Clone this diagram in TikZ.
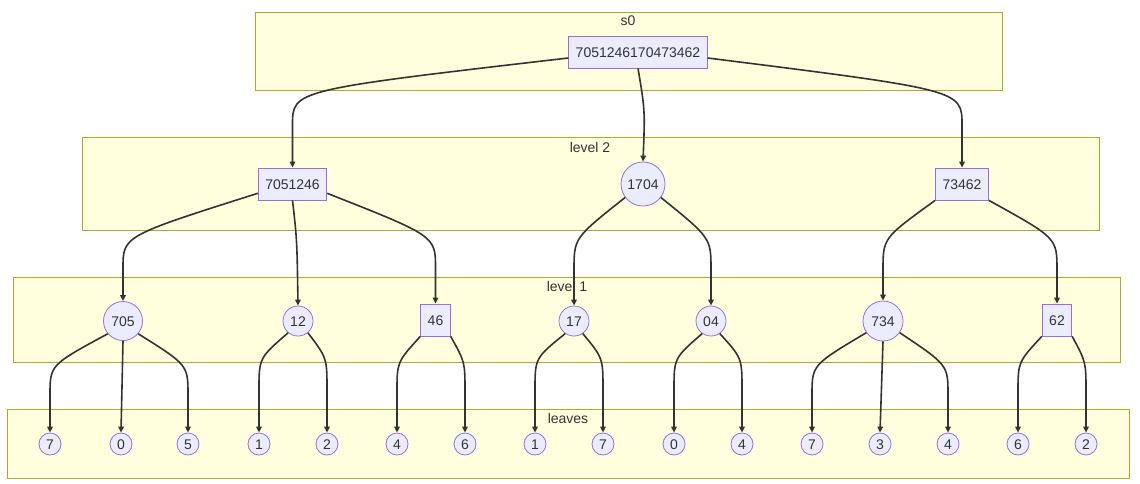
\documentclass[tikz,border=0pt]{standalone}
\usepackage{fontspec}
\setmainfont{Liberation Sans}
\usetikzlibrary{arrows.meta,calc}
\definecolor{clfill}{HTML}{FFFFDE}
\definecolor{cldraw}{HTML}{AAAA33}
\definecolor{nfill}{HTML}{ECECFF}
\definecolor{ndraw}{HTML}{9370DB}
\definecolor{ec}{HTML}{333333}
\newcommand\cedge[4]{\draw[conn] (#1) .. controls (#2.north |- 0,#3) .. (#2.north |- 0,#4) -- (#2.north);}
\begin{document}
\begin{tikzpicture}[x=1pt,y=-1pt,
  cluster/.style={draw=cldraw, fill=clfill, line width=0.8pt},
  clabel/.style={text=ec, font=\fontsize{14}{16}\selectfont, inner sep=0pt},
  box/.style={draw=ndraw, fill=nfill, line width=0.8pt, rectangle, minimum height=32pt,
    inner xsep=7pt, text=ec, font=\fontsize{14}{16}\selectfont, text height=10pt, text depth=0pt},
  circ/.style={draw=ndraw, fill=nfill, line width=0.8pt, circle, inner sep=0pt,
    minimum size=#1, text=ec, font=\fontsize{14}{16}\selectfont, text height=10pt, text depth=0pt},
  conn/.style={draw=ec, line width=1.6pt, -{Triangle[length=6pt,width=5.5pt]}}]
\path[use as bounding box, fill=white] (0,0) rectangle (1140,483);
% clusters
\draw[cluster] (255,12) rectangle (1002,90);
\node[clabel] (ls0) at (628,21) {s0};
\draw[cluster] (82,137) rectangle (1099,230);
\node[clabel] (ll2) at (590,147) {level 2};
\draw[cluster] (13,277) rectangle (1120,362);
\node[clabel] (ll1) at (567,286) {level 1};
\draw[cluster] (7,409) rectangle (1129,478);
\node[clabel] (llv) at (568,418) {leaves};
% nodes
\node[box] (root) at (638,52) {7051246170473462};
\node[box] (a) at (292.5,184) {7051246};
\node[circ=44pt] (b) at (643,184) {1704};
\node[box] (c) at (962,184) {73462};
\node[circ=39pt] (p705) at (123,321) {705};
\node[circ=30pt] (p12) at (298,321) {12};
\node[box] (p46) at (435.5,320) {46};
\node[circ=30pt] (p17) at (574,321) {17};
\node[circ=30pt] (p04) at (711,321) {04};
\node[circ=40pt] (p734) at (883,321) {734};
\node[box] (p62) at (1057,320) {62};
\node[circ=22pt] (q1) at (50,444) {7};
\node[circ=22pt] (q2) at (121,444) {0};
\node[circ=22pt] (q3) at (188,444) {5};
\node[circ=22pt] (q4) at (259,444) {1};
\node[circ=22pt] (q5) at (327,444) {2};
\node[circ=22pt] (q6) at (397,444) {4};
\node[circ=22pt] (q7) at (465,444) {6};
\node[circ=22pt] (q8) at (535,444) {1};
\node[circ=22pt] (q9) at (603,444) {7};
\node[circ=22pt] (q10) at (674,444) {0};
\node[circ=22pt] (q11) at (742,444) {4};
\node[circ=22pt] (q12) at (812,444) {7};
\node[circ=22pt] (q13) at (880,444) {3};
\node[circ=22pt] (q14) at (948,444) {4};
\node[circ=22pt] (q15) at (1018,444) {6};
\node[circ=22pt] (q16) at (1086,444) {2};
% edges root
\cedge{root.west |- 0,58}{a}{90}{125}
\draw[conn] (root.south) .. controls (645,110) .. (b.north);
\cedge{root.east |- 0,58}{c}{90}{125}
% level 2 -> level 1
\cedge{a.195}{p705}{236}{268}
\draw[conn] (a.south) .. controls (297,240) .. (p12.north);
\cedge{a.-15}{p46}{236}{268}
\cedge{b.217}{p17}{238}{270}
\cedge{b.-37}{p04}{238}{270}
\cedge{c.south west}{p734}{238}{270}
\cedge{c.south east}{p62}{238}{270}
% level 1 -> leaves
\cedge{p705.220}{q1}{365}{395}
\draw[conn] (p705.south) -- (q2.north);
\cedge{p705.-40}{q3}{365}{395}
\cedge{p12.230}{q4}{358}{390}
\cedge{p12.-50}{q5}{358}{390}
\cedge{p46.south west}{q6}{362}{392}
\cedge{p46.south east}{q7}{362}{392}
\cedge{p17.235}{q8}{358}{390}
\cedge{p17.-55}{q9}{358}{390}
\cedge{p04.235}{q10}{358}{390}
\cedge{p04.-55}{q11}{358}{390}
\cedge{p734.215}{q12}{365}{395}
\draw[conn] (p734.south) -- (q13.north);
\cedge{p734.-35}{q14}{365}{395}
\cedge{p62.south west}{q15}{362}{392}
\cedge{p62.south east}{q16}{362}{392}
\end{tikzpicture}
\end{document}
